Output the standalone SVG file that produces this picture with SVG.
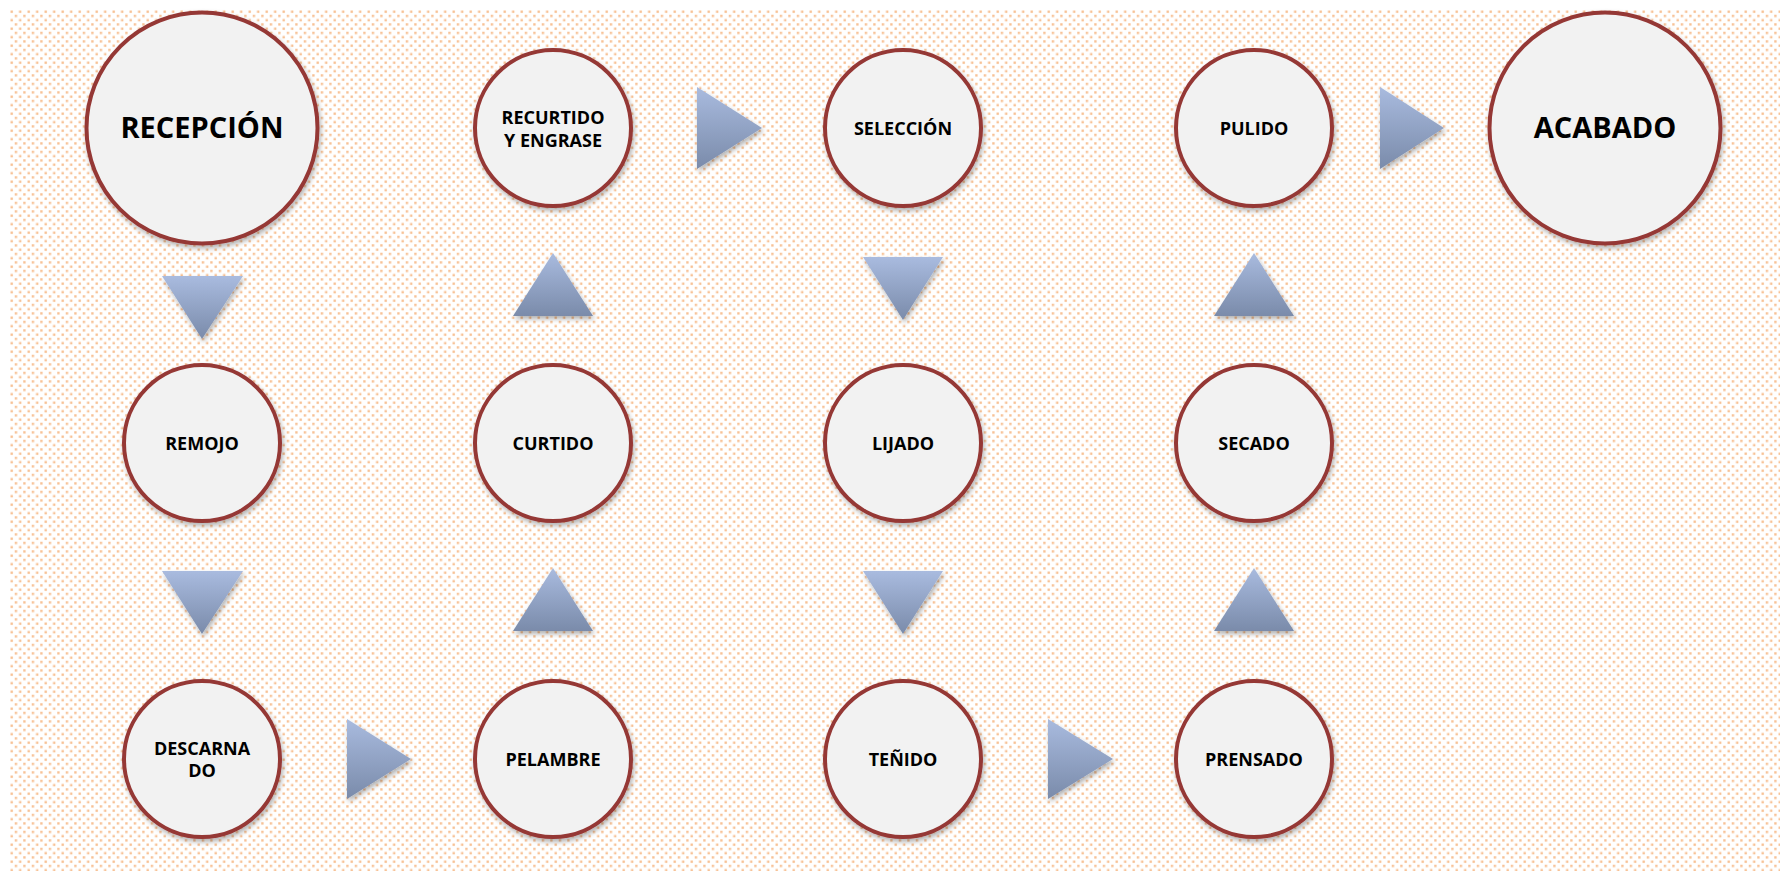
<svg xmlns="http://www.w3.org/2000/svg" width="1780" height="871" viewBox="0 0 1780 871">
  <defs>
    <!-- dotted backdrop -->
    <pattern id="dots" x="10" y="10" width="8.5" height="8.5" patternUnits="userSpaceOnUse">
      <rect x="0.5" y="0.5" width="2.4" height="2.4" fill="#f7c296"/>
      <rect x="4.75" y="4.75" width="2.4" height="2.4" fill="#f7c296"/>
    </pattern>
    <linearGradient id="arrowFill" x1="0" y1="0" x2="0" y2="1">
      <stop offset="0" stop-color="#a9bbdf"/>
      <stop offset="1" stop-color="#7a8baa"/>
    </linearGradient>
    <filter id="shadow" x="-20%" y="-20%" width="140%" height="140%">
      <feDropShadow dx="1.5" dy="3" stdDeviation="2.5" flood-color="#000" flood-opacity="0.3"/>
    </filter>
    <style>
      .step { fill: #f2f2f2; stroke: #953735; stroke-width: 4; filter: url(#shadow); }
      .arrow { fill: url(#arrowFill); filter: url(#shadow); }
      .lbl { font-family: "Open Sans", "Liberation Sans", sans-serif; font-weight: 700; fill: #000; text-anchor: middle; }
      .sm { font-size: 18px; }
      .lg { font-size: 29px; }
    </style>
  </defs>

  <rect x="0" y="0" width="1780" height="871" fill="#ffffff"/>
  <rect x="10" y="10" width="1770" height="861" fill="url(#dots)"/>

  <!-- flow arrows -->
  <g id="connectors">
    <polygon class="arrow" points="162,276 243,276 202,339"/>
    <polygon class="arrow" points="162,571 243,571 202,634"/>
    <polygon class="arrow" points="347,719 347,799 411,759"/>
    <polygon class="arrow" points="553,568 593,631 513,631"/>
    <polygon class="arrow" points="553,253 593,316 513,316"/>
    <polygon class="arrow" points="697,87 697,169 762,128"/>
    <polygon class="arrow" points="863,257 943,257 903,320"/>
    <polygon class="arrow" points="863,571 943,571 903,634"/>
    <polygon class="arrow" points="1048,719 1048,799 1113,759"/>
    <polygon class="arrow" points="1254,568 1294,631 1214,631"/>
    <polygon class="arrow" points="1254,253 1294,316 1214,316"/>
    <polygon class="arrow" points="1380,87 1380,169 1444,128"/>
  </g>

  <!-- process steps -->
  <g id="recepcion">
    <circle class="step" cx="202" cy="128" r="115.5"/>
    <text class="lbl lg" x="202" y="138">RECEPCIÓN</text>
  </g>
  <g id="remojo">
    <circle class="step" cx="202" cy="443" r="78"/>
    <text class="lbl sm" x="202" y="450">REMOJO</text>
  </g>
  <g id="descarnado">
    <circle class="step" cx="202" cy="759" r="78"/>
    <text class="lbl sm" x="202" y="755">DESCARNA</text>
    <text class="lbl sm" x="202" y="777">DO</text>
  </g>
  <g id="pelambre">
    <circle class="step" cx="553" cy="759" r="78"/>
    <text class="lbl sm" x="553" y="766">PELAMBRE</text>
  </g>
  <g id="curtido">
    <circle class="step" cx="553" cy="443" r="78"/>
    <text class="lbl sm" x="553" y="450">CURTIDO</text>
  </g>
  <g id="recurtido">
    <circle class="step" cx="553" cy="128" r="78"/>
    <text class="lbl sm" x="553" y="124">RECURTIDO</text>
    <text class="lbl sm" x="553" y="147">Y ENGRASE</text>
  </g>
  <g id="seleccion">
    <circle class="step" cx="903" cy="128" r="78"/>
    <text class="lbl sm" x="903" y="135">SELECCIÓN</text>
  </g>
  <g id="lijado">
    <circle class="step" cx="903" cy="443" r="78"/>
    <text class="lbl sm" x="903" y="450">LIJADO</text>
  </g>
  <g id="tenido">
    <circle class="step" cx="903" cy="759" r="78"/>
    <text class="lbl sm" x="903" y="766">TEÑIDO</text>
  </g>
  <g id="prensado">
    <circle class="step" cx="1254" cy="759" r="78"/>
    <text class="lbl sm" x="1254" y="766">PRENSADO</text>
  </g>
  <g id="secado">
    <circle class="step" cx="1254" cy="443" r="78"/>
    <text class="lbl sm" x="1254" y="450">SECADO</text>
  </g>
  <g id="pulido">
    <circle class="step" cx="1254" cy="128" r="78"/>
    <text class="lbl sm" x="1254" y="135">PULIDO</text>
  </g>
  <g id="acabado">
    <circle class="step" cx="1605" cy="128" r="115.5"/>
    <text class="lbl lg" x="1605" y="138">ACABADO</text>
  </g>
</svg>
